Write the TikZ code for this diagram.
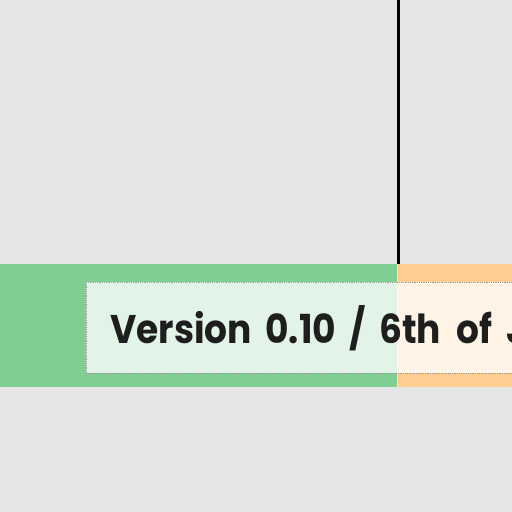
\documentclass[tikz,border=0pt]{standalone}
\usepackage{fontspec}
\setmainfont[FakeStretch=0.9]{Poppins}
\usetikzlibrary{positioning}
\definecolor{bggray}{HTML}{E5E5E5}
\definecolor{bandgreen}{HTML}{7FCE92}
\definecolor{bandorange}{HTML}{FFCD90}
\definecolor{dotgray}{HTML}{9A9A9A}
\definecolor{inkblack}{HTML}{1E1E1E}

\begin{document}
\begin{tikzpicture}[x=1pt,y=-1pt]
	\tikzset{band/.style={draw=none, inner sep=0pt, minimum height=123pt},
		verbox/.style={draw=dotgray, densely dotted, line width=0.8pt, fill=white, fill opacity=0.78, text opacity=1,
			inner xsep=24pt, inner ysep=0pt, minimum height=91pt, text=inkblack,
			font=\fontsize{40}{40}\selectfont\bfseries, align=left, text width=480pt},
		milestone/.style={draw=black, line width=3pt}}
	\useasboundingbox (0,0) rectangle (512,512);
	\clip (0,0) rectangle (512,512);
	\fill[bggray] (0,0) rectangle (512,512);
	% bands
	\node[band, fill=bandgreen, minimum width=397pt, anchor=north west] (green) at (0,264) {};
	\node[band, fill=bandorange, minimum width=200pt, right=0pt of green] (orange) {};
	% marker line
	\coordinate (top) at (398,0);
	\draw[milestone] (top) -- (top |- green.north);
	% version label
	\node[verbox, anchor=north west] (version) at (86,282) {Version 0.10 / 6th\hspace{16pt}of J};
\end{tikzpicture}
\end{document}
